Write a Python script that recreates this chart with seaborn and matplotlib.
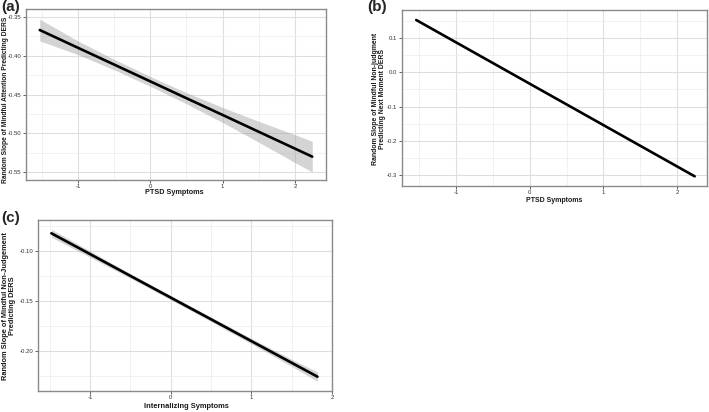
import matplotlib
matplotlib.use("Agg")
import matplotlib.pyplot as plt
import seaborn as sns
from matplotlib.ticker import MultipleLocator

# ---------------- data ----------------
# Panel (a): PTSD symptoms -> slope of mindful attention predicting DERS
a_x = [-1.53, -1.0, -0.5, 0.0, 0.5, 1.0, 1.5, 2.0, 2.24]
a_fit = [-0.3668, -0.3898, -0.4114, -0.4331, -0.4548, -0.4764, -0.4981, -0.5198, -0.5302]
a_upper = [-0.3528, -0.3810, -0.4046, -0.4268, -0.4476, -0.4667, -0.4846, -0.5018, -0.5104]
a_lower = [-0.3808, -0.3986, -0.4182, -0.4394, -0.4620, -0.4861, -0.5116, -0.5378, -0.5500]

# Panel (b): PTSD symptoms -> slope of non-judgment predicting next-moment DERS
b_x = [-1.54, 2.24]
b_fit = [0.1515, -0.3029]

# Panel (c): internalizing symptoms -> slope of non-judgement predicting DERS
c_x = [-1.48, -1.0, -0.5, 0.0, 0.5, 1.0, 1.5, 1.82]
c_fit = [-0.0823, -0.1031, -0.1249, -0.1466, -0.1683, -0.1901, -0.2118, -0.2257]
c_upper = [-0.0783, -0.1000, -0.1226, -0.1444, -0.1660, -0.1874, -0.2082, -0.2210]
c_lower = [-0.0863, -0.1062, -0.1272, -0.1488, -0.1706, -0.1928, -0.2154, -0.2304]

x_ticks = [-1, 0, 1, 2]
a_yticks = [-0.35, -0.40, -0.45, -0.50, -0.55]
b_yticks = [0.1, 0.0, -0.1, -0.2, -0.3]
c_yticks = [-0.10, -0.15, -0.20]

a_ylabel = "Random Slope of Mindful Attention Predicting DERS"
b_ylabel = "Random Slope of Mindful Non-judgment\nPredicting Next Moment DERS"
c_ylabel = "Random Slope of Mindful Non-Judgement\nPredicting DERS"
a_xlabel = "PTSD Symptoms"
b_xlabel = "PTSD Symptoms"
c_xlabel = "Internalizing Symptoms"

# ---------------- style ----------------
sns.set_theme(style="white")
plt.rcParams["font.family"] = ["Liberation Sans", "DejaVu Sans"]
plt.rcParams["axes.unicode_minus"] = False

W, H = 709, 412
fig = plt.figure(figsize=(W / 100, H / 100), dpi=100)


def px_axes(left, top, right, bottom):
    return fig.add_axes([left / W, 1 - bottom / H, (right - left) / W, (bottom - top) / H])


def ftext(x, y, s, size, **kw):
    fig.text(x / W, 1 - y / H, s, fontsize=size, fontweight="bold", color="#1a1a1a",
             ha="center", va="center", **kw)


def style(ax, xlim, ylim, yticks, fmt):
    ax.set_xlim(*xlim)
    ax.set_ylim(*ylim)
    ax.set_xticks(x_ticks)
    ax.set_xticklabels([str(v) for v in x_ticks])
    ax.set_yticks(yticks)
    ax.set_yticklabels([fmt.format(v) for v in yticks])
    ax.xaxis.set_minor_locator(MultipleLocator(0.5))
    ax.yaxis.set_minor_locator(MultipleLocator((yticks[0] - yticks[1]) / 2))
    ax.grid(True, which="major", color="#dedede", lw=0.8)
    ax.grid(True, which="minor", color="#ebebeb", lw=0.5)
    ax.set_axisbelow(True)
    for s in ax.spines.values():
        s.set_color("#8a8a8a")
        s.set_linewidth(1.0)
    ax.tick_params(which="major", direction="out", length=2.0, width=0.6,
                   color="#444444", labelsize=4.3, labelcolor="#333333", pad=1.2,
                   bottom=True, left=True)
    ax.tick_params(which="minor", length=0)
    ax.set_xlabel("")
    ax.set_ylabel("")


# Panel (a)
ax_a = px_axes(26, 9, 326, 180)
ax_a.fill_between(a_x, a_lower, a_upper, color="#999999", alpha=0.42, lw=0)
sns.lineplot(x=a_x, y=a_fit, ax=ax_a, color="black", lw=1.9)
style(ax_a, (-1.72, 2.43), (-0.5603, -0.3397), a_yticks, "{:.2f}")
ftext(174, 193, a_xlabel, 5.2)
ftext(5.5, 99.5, a_ylabel, 4.75, rotation=90)

# Panel (b)
ax_b = px_axes(402, 10, 707, 186)
sns.lineplot(x=b_x, y=b_fit, ax=ax_b, color="black", lw=1.9)
style(ax_b, (-1.733, 2.407), (-0.331, 0.1806), b_yticks, "{:.1f}")
ftext(554, 200, b_xlabel, 5.0)
ftext(379, 99, b_ylabel, 4.95, rotation=90, linespacing=1.0)

# Panel (c)
ax_c = px_axes(38, 220, 332, 391)
ax_c.fill_between(c_x, c_lower, c_upper, color="#999999", alpha=0.42, lw=0)
sns.lineplot(x=c_x, y=c_fit, ax=ax_c, color="black", lw=1.9)
style(ax_c, (-1.646, 2.0), (-0.240, -0.069), c_yticks, "{:.2f}")
ftext(186, 406, c_xlabel, 5.4)
ftext(9, 306, c_ylabel, 5.35, rotation=90, linespacing=1.0)

# panel letters
fig.text(1 / W, 1 - 0.5 / H, "(a)", fontsize=11, fontweight="bold", va="top", ha="left")
fig.text(367 / W, 1 - 0.5 / H, "(b)", fontsize=11, fontweight="bold", va="top", ha="left")
fig.text(1 / W, 1 - 210.5 / H, "(c)", fontsize=11, fontweight="bold", va="top", ha="left")

fig.savefig("out.png", dpi=100, facecolor="white")
